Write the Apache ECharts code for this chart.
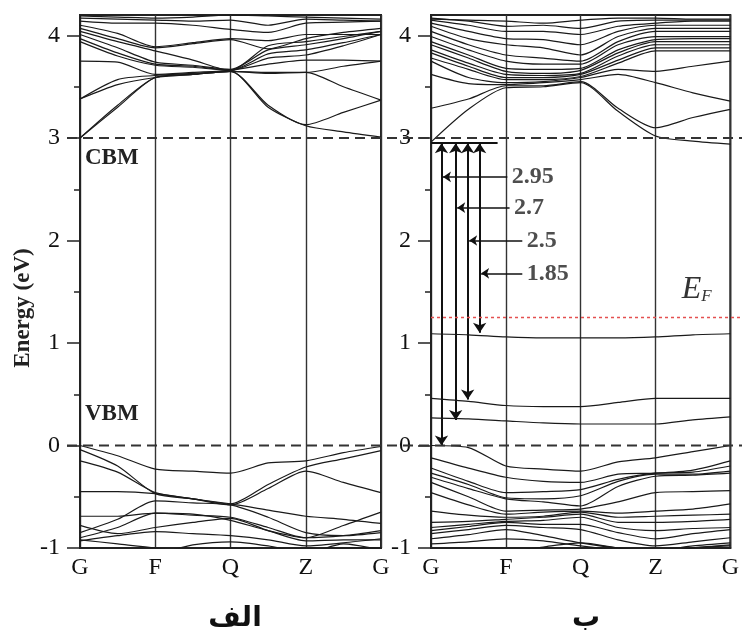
<!DOCTYPE html>
<html>
<head>
<meta charset="utf-8">
<script src="https://cdn.jsdelivr.net/npm/echarts@6/dist/echarts.min.js"></script>
<style>
html,body{margin:0;padding:0;background:#fff;}
#main{width:742px;height:641px;}
</style>
</head>
<body>
<div id="main"></div>
<script>
// k path: G - F - Q - Z - G, bands sampled every half segment
var kPoints = [0, 0.5, 1, 1.5, 2, 2.5, 3, 3.5, 4];
var kLabels = ['G', 'F', 'Q', 'Z', 'G'];
var yTicks = [-1, 0, 1, 2, 3, 4];
var yMinorTicks = [-0.5, 0.5, 1.5, 2.5, 3.5];
var panelNames = ['الف', 'ب'];

// panel (الف) conduction bands
var leftCB = [
	[3.00, 3.30, 3.59, 3.62, 3.65, 3.30, 3.12, 3.06, 3.01],
	[3.00, 3.32, 3.59, 3.62, 3.65, 3.32, 3.13, 3.25, 3.37],
	[3.38, 3.52, 3.59, 3.62, 3.65, 3.63, 3.64, 3.50, 3.37],
	[3.38, 3.57, 3.61, 3.63, 3.65, 3.64, 3.64, 3.70, 3.75],
	[3.75, 3.74, 3.62, 3.64, 3.66, 3.72, 3.76, 3.76, 3.75],
	[3.94, 3.80, 3.71, 3.69, 3.66, 3.78, 3.81, 3.90, 4.01],
	[3.97, 3.83, 3.72, 3.70, 3.66, 3.82, 3.86, 3.93, 4.01],
	[4.01, 3.88, 3.74, 3.71, 3.67, 3.86, 3.91, 3.97, 4.04],
	[4.04, 3.94, 3.85, 3.76, 3.66, 3.90, 3.94, 3.99, 4.04],
	[4.07, 3.97, 3.88, 3.92, 3.96, 3.87, 3.97, 4.03, 4.07],
	[4.10, 4.02, 3.89, 3.93, 3.97, 3.95, 4.01, 4.01, 4.01],
	[4.14, 4.12, 4.12, 4.10, 4.06, 4.03, 4.12, 4.13, 4.14],
	[4.17, 4.16, 4.15, 4.14, 4.15, 4.10, 4.16, 4.15, 4.14],
	[4.19, 4.18, 4.17, 4.18, 4.20, 4.19, 4.18, 4.17, 4.16]
];
// panel (الف) valence bands
var leftVB = [
	[0.00, -0.10, -0.23, -0.25, -0.27, -0.17, -0.15, -0.07, -0.01],
	[-0.04, -0.20, -0.47, -0.52, -0.57, -0.38, -0.21, -0.13, -0.05],
	[-0.15, -0.26, -0.46, -0.52, -0.58, -0.42, -0.25, -0.36, -0.46],
	[-0.45, -0.45, -0.47, -0.52, -0.57, -0.63, -0.69, -0.72, -0.76],
	[-0.69, -0.69, -0.66, -0.67, -0.73, -0.83, -0.90, -0.78, -0.65],
	[-0.85, -0.72, -0.54, -0.56, -0.58, -0.70, -0.85, -0.88, -0.85],
	[-0.90, -0.80, -0.66, -0.68, -0.70, -0.80, -0.90, -0.88, -0.83],
	[-0.78, -0.86, -0.80, -0.75, -0.71, -0.83, -0.93, -0.92, -0.92],
	[-0.93, -0.88, -0.84, -0.86, -0.88, -0.92, -0.98, -0.95, -0.91],
	[-0.92, -0.96, -1.00, -1.05, -1.00, -1.03, -1.05, -1.00, -1.00],
	[-1.05, -1.02, -1.05, -0.97, -0.94, -0.98, -1.05, -0.96, -1.02]
];
// panel (ب) conduction bands
var rightCB = [
	[2.96, 3.28, 3.49, 3.50, 3.54, 3.26, 3.02, 2.97, 2.94],
	[3.29, 3.38, 3.51, 3.51, 3.55, 3.29, 3.10, 3.20, 3.28],
	[3.62, 3.53, 3.52, 3.54, 3.57, 3.62, 3.54, 3.44, 3.36],
	[3.75, 3.59, 3.54, 3.55, 3.59, 3.67, 3.65, 3.70, 3.75],
	[3.78, 3.67, 3.57, 3.57, 3.60, 3.73, 3.85, 3.85, 3.85],
	[3.83, 3.70, 3.59, 3.59, 3.62, 3.76, 3.88, 3.88, 3.88],
	[3.86, 3.73, 3.62, 3.61, 3.63, 3.80, 3.91, 3.91, 3.91],
	[3.91, 3.78, 3.65, 3.63, 3.66, 3.83, 3.94, 3.94, 3.94],
	[3.94, 3.81, 3.68, 3.67, 3.68, 3.86, 3.96, 3.97, 3.97],
	[3.99, 3.86, 3.75, 3.72, 3.72, 3.91, 3.99, 3.99, 3.99],
	[4.04, 3.91, 3.81, 3.78, 3.75, 3.94, 4.04, 4.04, 4.04],
	[4.09, 3.97, 3.91, 3.88, 3.81, 3.99, 4.07, 4.07, 4.07],
	[4.12, 4.04, 3.97, 3.96, 3.91, 4.04, 4.10, 4.10, 4.10],
	[4.15, 4.10, 4.04, 4.04, 4.01, 4.09, 4.12, 4.14, 4.14],
	[4.17, 4.14, 4.09, 4.10, 4.07, 4.14, 4.15, 4.15, 4.15],
	[4.16, 4.15, 4.14, 4.12, 4.15, 4.17, 4.17, 4.16, 4.16]
];
// panel (ب) valence bands
var rightVB = [
	[0.00, -0.02, -0.20, -0.23, -0.25, -0.16, -0.12, -0.06, 0.00],
	[-0.12, -0.22, -0.31, -0.35, -0.36, -0.28, -0.27, -0.24, -0.15],
	[-0.22, -0.35, -0.46, -0.45, -0.43, -0.33, -0.27, -0.26, -0.20],
	[-0.27, -0.38, -0.51, -0.52, -0.49, -0.35, -0.28, -0.28, -0.25],
	[-0.31, -0.42, -0.52, -0.55, -0.59, -0.40, -0.30, -0.29, -0.27],
	[-0.36, -0.50, -0.64, -0.63, -0.62, -0.55, -0.46, -0.45, -0.44],
	[-0.46, -0.58, -0.67, -0.65, -0.64, -0.66, -0.64, -0.62, -0.57],
	[-0.64, -0.68, -0.70, -0.69, -0.65, -0.70, -0.69, -0.68, -0.67],
	[-0.75, -0.74, -0.72, -0.70, -0.67, -0.75, -0.75, -0.74, -0.72],
	[-0.80, -0.77, -0.74, -0.73, -0.70, -0.80, -0.83, -0.81, -0.80],
	[-0.83, -0.79, -0.75, -0.77, -0.77, -0.85, -0.91, -0.86, -0.82],
	[-0.86, -0.82, -0.78, -0.80, -0.82, -0.92, -0.98, -0.94, -0.90],
	[-0.91, -0.87, -0.82, -0.88, -0.95, -1.00, -1.02, -0.98, -0.95],
	[-0.96, -0.94, -0.91, -0.93, -0.98, -1.02, -1.05, -1.00, -0.98],
	[-1.05, -1.05, -1.04, -0.99, -0.95, -1.00, -1.05, -1.00, -0.97]
];
// panel (ب) gap states
var rightGap = [
	[1.09, 1.08, 1.06, 1.05, 1.05, 1.05, 1.06, 1.08, 1.09],
	[0.46, 0.43, 0.39, 0.38, 0.38, 0.42, 0.46, 0.46, 0.46],
	[0.27, 0.26, 0.24, 0.22, 0.21, 0.21, 0.21, 0.25, 0.28]
];

var cbmLevel = 2.95;
var transitions = [2.95, 2.7, 2.5, 1.85];
var arrowK = [0.14, 0.33, 0.49, 0.65];
var leaderY = [2.62, 2.32, 2.0, 1.68];
var leaderEndK = [1.02, 1.05, 1.22, 1.22];
var cbmLineEnd = 0.89;
var fermiLevel = 1.25;

var serif = 'Liberation Serif';

function bandSeries(bands, g){
	return bands.map(function(b){
		return {
			type: 'line', xAxisIndex: g, yAxisIndex: g*2, silent: true,
			data: kPoints.map(function(k, i){ return [k, b[i]]; }),
			showSymbol: false, smooth: 0.25,
			lineStyle: {color: '#1a1a1a', width: 1.2}
		};
	});
}

function makeGrid(left, right){
	return {left: left, right: right, top: 15, bottom: 93, show: true,
		borderColor: '#222', borderWidth: 2, backgroundColor: 'transparent'};
}
function makeX(g){
	return {gridIndex: g, type: 'value', min: 0, max: 4, interval: 1,
		axisLine: {show: true, onZero: false, lineStyle: {color: '#222', width: 2}},
		axisTick: {show: false},
		axisLabel: {margin: 8, fontFamily: serif, fontSize: 24, color: '#111',
			formatter: function(v){ return kLabels[Math.round(v)]; }},
		splitLine: {show: true, lineStyle: {color: '#333', width: 1.4}}
	};
}
function makeY(g){
	return [{gridIndex: g, type: 'value', position: 'left', min: -1, max: 4.2,
		axisLine: {show: true, onZero: false, lineStyle: {color: '#222', width: 2}},
		axisTick: {show: true, length: 13, customValues: yTicks, lineStyle: {color: '#222', width: 1.5}},
		axisLabel: {customValues: yTicks, margin: 20, fontFamily: serif, fontSize: 24, color: '#111'},
		splitLine: {show: false}
	}, {gridIndex: g, type: 'value', position: 'left', min: -1, max: 4.2,
		axisLine: {show: false, onZero: false},
		axisTick: {show: true, length: 6, customValues: yMinorTicks, lineStyle: {color: '#222', width: 1.5}},
		axisLabel: {show: false},
		splitLine: {show: false}
	}];
}

var series = [].concat(bandSeries(leftCB, 0), bandSeries(leftVB, 0),
	bandSeries(rightCB, 1), bandSeries(rightVB, 1), bandSeries(rightGap, 1));

// transition arrows in panel (ب)
series.push({
	type: 'lines', coordinateSystem: 'cartesian2d', xAxisIndex: 1, yAxisIndex: 2, silent: true,
	symbol: ['arrow', 'arrow'], symbolSize: 10,
	lineStyle: {color: '#111', width: 2, opacity: 1},
	data: transitions.map(function(e, i){
		return {coords: [[arrowK[i], cbmLevel], [arrowK[i], cbmLevel - e]]};
	})
});
series.push({
	type: 'lines', coordinateSystem: 'cartesian2d', xAxisIndex: 1, yAxisIndex: 2, silent: true,
	symbol: ['none', 'none'],
	lineStyle: {color: '#111', width: 2, opacity: 1},
	data: [{coords: [[0, cbmLevel], [cbmLineEnd, cbmLevel]]}]
});
series.push({
	type: 'lines', coordinateSystem: 'cartesian2d', xAxisIndex: 1, yAxisIndex: 2, silent: true,
	symbol: ['none', 'arrow'], symbolSize: 8,
	lineStyle: {color: '#111', width: 1.5, opacity: 1},
	data: leaderY.map(function(y, i){
		return {coords: [[leaderEndK[i], y], [arrowK[i] + 0.02, y]]};
	})
});
series.push({
	type: 'scatter', xAxisIndex: 1, yAxisIndex: 2, silent: true,
	symbolSize: 1, itemStyle: {color: 'rgba(0,0,0,0)'},
	data: leaderY.map(function(y, i){ return [leaderEndK[i], y]; }),
	label: {show: true, position: 'right', distance: 4,
		fontFamily: serif, fontWeight: 'bold', fontSize: 24, color: '#222',
		formatter: function(p){ return String(transitions[p.dataIndex]); }}
});

var chart = echarts.init(document.getElementById('main'));
chart.setOption({
	animation: false,
	backgroundColor: '#fff',
	title: [
		{text: panelNames[0], left: 230, top: 600, textAlign: 'center',
			textStyle: {fontFamily: 'DejaVu Sans', fontWeight: 'bold', fontSize: 28, color: '#111'}},
		{text: panelNames[1], left: 581, top: 600, textAlign: 'center',
			textStyle: {fontFamily: 'DejaVu Sans', fontWeight: 'bold', fontSize: 28, color: '#111'}}
	],
	grid: [makeGrid(80, 361), makeGrid(431, 10)],
	xAxis: [makeX(0), makeX(1)],
	yAxis: makeY(0).concat(makeY(1)),
	series: series
});

// reference lines and annotations placed through the axes
var p0 = chart.convertToPixel({xAxisIndex: 0, yAxisIndex: 0}, [0, 0]);
var p3 = chart.convertToPixel({xAxisIndex: 0, yAxisIndex: 0}, [0, 3]);
var pf = chart.convertToPixel({xAxisIndex: 1, yAxisIndex: 2}, [0, fermiLevel]);
var pEF = chart.convertToPixel({xAxisIndex: 1, yAxisIndex: 2}, [3.35, 1.52]);
var dash = {stroke: '#333', lineWidth: 2, lineDash: [10, 6]};
chart.setOption({
	graphic: [
		{type: 'line', z: 50, silent: true, shape: {x1: 67, y1: p0[1], x2: 742, y2: p0[1]}, style: dash},
		{type: 'line', z: 50, silent: true, shape: {x1: 67, y1: p3[1], x2: 742, y2: p3[1]}, style: dash},
		{type: 'line', z: 50, silent: true, shape: {x1: pf[0], y1: pf[1], x2: 742, y2: pf[1]},
			style: {stroke: '#e45050', lineWidth: 1.5, lineDash: [3, 3]}},
		{type: 'text', z: 50, silent: true, x: p3[0] + 5, y: p3[1] + 20,
			style: {text: 'CBM', fontFamily: serif, fontWeight: 'bold', fontSize: 23, fill: '#222', verticalAlign: 'middle'}},
		{type: 'text', z: 50, silent: true, x: p0[0] + 5, y: p0[1] - 31,
			style: {text: 'VBM', fontFamily: serif, fontWeight: 'bold', fontSize: 23, fill: '#222', verticalAlign: 'middle'}},
		{type: 'text', z: 50, silent: true, x: pEF[0], y: pEF[1],
			style: {text: '{e|E}{f|F}', verticalAlign: 'middle',
				rich: {e: {fontFamily: serif, fontStyle: 'italic', fontSize: 32, fill: '#333'},
					f: {fontFamily: serif, fontStyle: 'italic', fontSize: 17, fill: '#333', padding: [14, 0, 0, 0]}}}},
		{type: 'text', z: 50, silent: true, x: 23, y: 308, rotation: Math.PI / 2,
			style: {text: 'Energy (eV)', fontFamily: serif, fontWeight: 'bold', fontSize: 23, fill: '#222',
				align: 'center', verticalAlign: 'middle'}}
	]
});
</script>
</body>
</html>
